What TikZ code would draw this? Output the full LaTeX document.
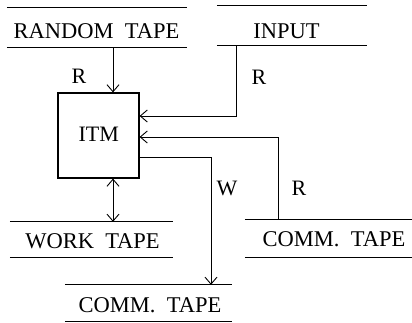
\documentclass[tikz,border=0pt]{standalone}
\usepackage{fontspec}
\setmainfont{Liberation Serif}
\usetikzlibrary{arrows.meta}
\begin{document}
\begin{tikzpicture}[x=1pt,y=1pt,
  tapetext/.style={inner sep=0pt,font=\fontsize{22.5}{27}\selectfont},
  tapebox/.style={draw=none,inner sep=0pt},
  tapeline/.style={line width=0.9pt},
  lbl/.style={inner sep=0pt,font=\fontsize{22}{26}\selectfont},
  conn/.style={line width=0.9pt},
  tip/.style={-{Straight Barb[length=7pt,width=12pt,line width=0.9pt]}},
  itmbox/.style={draw,line width=1.2pt,minimum width=81pt,minimum height=85pt,inner sep=0pt,font=\fontsize{22}{26}\selectfont}
]
\useasboundingbox (0,0) rectangle (412,-322);

% ITM box
\node[itmbox] (itm) at (98.5,-135.5) {};
\node[lbl] (itmt) at (98.7,-134) {ITM};

% tapes: region between the two lines
\node[tapebox,minimum width=180pt,minimum height=39pt] (rt) at (97,-27.5) {};
\node[tapetext] (rtt) at (96.5,-31) {RANDOM\ \ TAPE};
\node[tapebox,minimum width=150pt,minimum height=39pt] (inp) at (292,-25.5) {};
\node[tapetext] (inpt) at (286.5,-31) {INPUT};
\node[tapebox,minimum width=163pt,minimum height=35pt] (wt) at (91.5,-239.5) {};
\node[tapetext] (wtt) at (92.5,-241) {WORK\ \ TAPE};
\node[tapebox,minimum width=167pt,minimum height=37pt] (ct1) at (328.5,-238.5) {};
\node[tapetext] (ct1t) at (334,-239) {COMM.\ \ TAPE};
\node[tapebox,minimum width=167pt,minimum height=36pt] (ct2) at (148.5,-303) {};
\node[tapetext] (ct2t) at (150,-305) {COMM.\ \ TAPE};

\foreach \t in {rt,inp,wt,ct1,ct2}{
  \draw[tapeline] (\t.north west) -- (\t.north east);
  \draw[tapeline] (\t.south west) -- (\t.south east);
}

% random tape -> ITM (R)
\draw[conn,tip] ([xshift=14.5pt]itm.north |- rt.south) -- ([xshift=14.5pt]itm.north);
\node[lbl] (lr1) at (79,-76) {R};

% input -> ITM (R)
\coordinate (inpdown) at ([xshift=20pt]inp.south west);
\draw[conn,tip] (inpdown) |- ([yshift=19.5pt]itm.east);
\node[lbl] (lr2) at (259,-77) {R};

% comm tape (right) -> ITM (R)
\coordinate (ct1up) at ([xshift=34pt]ct1.north west);
\draw[conn,tip] (ct1up) |- ([yshift=-1.5pt]itm.east);
\node[lbl] (lr3) at (299,-188) {R};

% ITM -> comm tape (lower) (W)
\coordinate (wcorner) at (211,-157);
\draw[conn,tip] ([yshift=-21.5pt]itm.east) -- (wcorner) -- (wcorner |- ct2.north);
\node[lbl] (lw) at (227,-188) {W};

% ITM <-> work tape
\draw[conn,{Straight Barb[length=7pt,width=12pt,line width=0.9pt]}-{Straight Barb[length=7pt,width=12pt,line width=0.9pt]}]
  ([xshift=14.5pt]itm.south) -- ([xshift=14.5pt]itm.south |- wt.north);
\end{tikzpicture}
\end{document}
